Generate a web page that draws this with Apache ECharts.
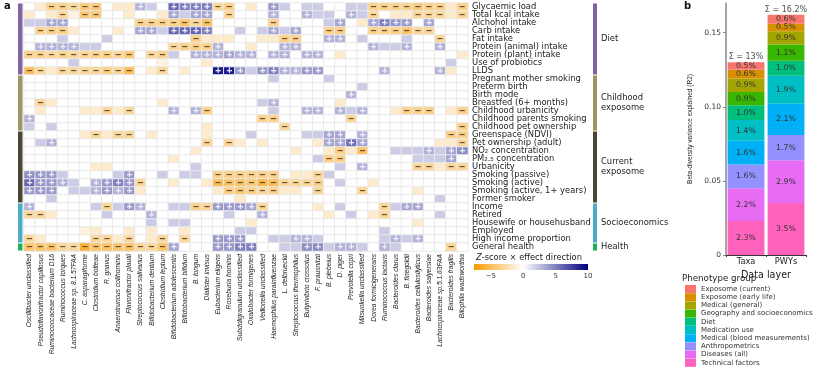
<!DOCTYPE html>
<html><head><meta charset="utf-8">
<script src="https://cdn.jsdelivr.net/npm/echarts@6/dist/echarts.min.js"></script>
<style>html,body{margin:0;padding:0;background:#fff}#c{width:830px;height:373px}</style>
</head><body><div id="c"></div>
<script>
// ---------------- DATA ----------------
const taxa = ['Oscillibacter unclassified','Pseudoflavonifractor capillosus','Ruminococcaceae bacterium D16','Ruminococcus torques','Lachnospiraceae sp. 8.1.57FAA','C. asparagiforme','Clostridium bolteae','R. gnavus','Anaerotruncus colihominis','Flavonifractor plautii','Streptococcus salivarius','Bifidobacterium dentium','Clostridium leptum','Bifidobacterium adolescentis','Bifidobacterium bifidum','B. longum','Dialister invisus','Eubacterium eligens','Roseburia hominis','Subdoligranulum unclassified','Oxalobacter formigenes','Veillonella unclassified','Haemophilus parainfluenzae','L. delbrueckii','Streptococcus thermophilus','Butyrivibrio crossotus','F. prausnitzii','B. plebeius','D. piger','Prevotella copri','Mitsuokella unclassified','Dorea formicigenerans','Ruminococcus lactaris','Bacteroides clarus','B. finegoldii','Bacteroides cellulosilyticus','Bacteroides salyersiae','Lachnospiraceae sp.5.1.63FAA','Bacteroides fragilis','Bilophila wadsworthia'];
const phenotypes = ['Glycaemic load','Total kcal intake','Alchohol intake','Carb intake','Fat intake','Protein (animal) intake','Protein (plant) intake','Use of probiotics','LLDS','Pregnant mother smoking','Preterm birth','Birth mode','Breastfed (6+ months)','Childhood urbanicity','Childhood parents smoking','Childhood pet ownership','Greenspace (NDVI)','Pet ownership (adult)','NO₂ concentration','PM₂.₅ concentration','Urbanicity','Smoking (passive)','Smoking (active)','Smoking (active, 1+ years)','Former smoker','Income','Retired','Housewife or househusband','Employed','High income proportion','General health'];
const groupNames = ['Diet','Childhood\nexposome','Current\nexposome','Socioeconomics','Health'];
const groupSizes = [9,7,9,5,1];
const groupColors = ['#8064a6','#9d9562','#4b4631','#4dadc8','#1db257'];
// Z-score x effect direction, one row per phenotype, one value per taxon
const zScores = [
[0,-1.5,-3.5,-3.5,-3,-4,-4,0,-1.5,-1.5, 3,2,0,6,5,5,5,-3,-3.5,0, -1.5,0,4,2,0,2,2,0,0,2, 2,-3.5,-3.5,-3.5,-3.5,-4,-3.5,-3.5,-1.5,-3.5],
[-1.5,0,-1.5,-3,-1,-4,-4,0,0,-1.5, 0,0,-1.5,3.5,2,3.5,3.5,0,-3,0, 0,0,3,0,0,3,2,2,0,3, 2,-3,0,-1.5,-1.5,-3,-3,-3,-1.5,-3],
[2,2,3.5,3.5,0,0,0,0,0,0, -3.5,-3.5,-3.5,-3.5,-4.5,-3,-4.5,0,0,0, 0,0,-3.5,0,0,0,0,2,3.5,0, -1.5,3.5,5,4,4,0,3.5,0,0,0],
[0,-3.5,-3.5,-3.5,-1.5,0,0,0,-1.5,0, 3.5,3.5,2,6,6,6,5,0,0,2, 0,2,3.5,2,3.5,0,0,-3.5,-3.5,0, 0,-3.5,-3.5,-3.5,-4.5,-3,-3,0,0,0],
[0,0,0,2,0,0,0,2,0,0, 0,0,0,0,0,-3.5,-1.5,-1.5,-1.5,0, 0,-1.5,-1.5,-3.5,-3.5,0,0,3,3,0, 2,0,0,0,2,0,0,-3,0,0],
[0,3,3,3,3,2,2,0,0,0, 0,0,0,-3,-3.5,-3.5,-3.5,3,0,0, -1.5,0,0,3,3,0,0,0,0,0, 0,3,2,2,3,0,0,3,0,0],
[-3.5,-3.5,-3,-3.5,-3,-3,-3.5,-3.5,-3,-4, 0,-3,-3.5,2,0,3,3,3,3.5,3, 3,0,3,3,0,3,3,0,-1.5,0, 0,0,0,0,0,0,0,0,0,-1.5],
[0,0,0,0,2,0,0,0,0,0, 0,0,-1,0,0,0,-1.5,0,0,0, 0,0,0,0,0,0,0,0,0,0, 0,0,0,0,0,0,0,0,2,0],
[-5,-3,-1.5,-3,-3,-3,-3,-3.5,-3,-5, 0,-1.5,-3,0,-1.5,0,0,9,9,4, 2,4,5,3,3,4,4,0,0,0, 0,0,3,0,0,0,0,3,-1.5,0],
[0,0,0,0,0,0,0,0,0,0, 0,0,0,0,0,0,0,0,0,0, 0,0,2,0,0,0,0,2,0,0, 0,0,0,0,0,0,0,0,0,0],
[0,0,0,0,0,0,0,0,0,0, 0,0,0,0,0,0,0,0,0,0, 0,0,0,0,0,0,0,0,0,0, 2,0,0,0,0,0,0,0,0,0],
[0,0,0,0,0,0,0,0,0,0, 0,0,0,0,0,0,0,0,0,0, 0,0,0,0,0,0,0,0,0,3, 0,0,0,0,0,0,0,0,0,0],
[0,-3,-1.5,0,0,0,0,0,0,0, 0,0,-1.5,0,0,0,0,0,0,0, 0,2,3,0,0,0,0,0,-1.5,0, 0,0,0,0,0,0,0,0,0,0],
[0,-1.5,0,0,0,-1.5,-1.5,-3,-1.5,-3, 0,0,0,3,0,3,-3.5,0,0,0, 0,0,2,0,0,3,3,0,3,2, 3,0,0,-1.5,-3.5,-3.5,-3.5,0,-1.5,-3.5],
[3,0,0,0,0,0,0,0,0,0, 0,0,0,0,0,0,0,0,0,0, 0,-3.5,-3.5,0,0,0,0,0,0,-3, 0,0,0,0,0,0,0,0,0,0],
[2,0,2,0,0,0,0,0,0,0, 0,0,0,0,0,0,-1.5,0,0,0, 0,0,0,-3,0,0,0,0,0,0, 0,0,0,0,0,0,0,0,0,-3.5],
[0,0,0,0,0,-1.5,-3,-1.5,-3,-3, 0,-1.5,0,0,0,0,-1.5,0,0,0, 2,0,0,0,0,2,2,3.5,3.5,0, 3,0,0,0,0,0,0,0,-3.5,-3.5],
[0,2,3,0,0,0,0,0,0,0, 0,0,0,0,0,0,-3,0,-3,-1.5, 0,-1.5,0,0,0,0,-1.5,3.5,3.5,5.5, 3.5,0,0,0,0,0,0,-1.5,-1.5,-3],
[0,0,0,0,0,0,0,0,0,0, 0,0,0,0,0,-1.5,0,0,0,0, 0,0,0,0,-1.5,0,0,-1.5,-3.5,-1.5, -4.5,0,0,2,2,2,3,2,3.5,4.5],
[0,0,0,0,0,0,0,0,0,0, 0,0,0,-1.5,0,0,0,0,0,0, 0,0,0,0,0,0,2,-3.5,-3.5,0, 0,0,0,0,0,2,2,2,3.5,0],
[0,0,0,0,0,0,-1.5,-1.5,0,0, 0,0,0,0,0,2,0,0,0,0, 0,0,0,0,0,0,0,0,2,0, 3,0,0,0,0,-3,-3,-1.5,-3,-3],
[4.5,4,4,2,0,0,0,0,2,4, 0,0,2,0,2,2,0,-3.5,-3.5,-3.5, -3.5,-3.5,-3.5,0,-1.5,-1.5,-3,2,0,0, 0,0,0,0,0,0,0,0,0,0],
[6,4,4,3,2,0,3,4,5,4, -3,0,0,-1.5,0,0,-1.5,-5,-4.5,-4.5, -4,-5.5,-5,-3,-3,-3,-3.5,0,2,0, 0,-1.5,0,0,0,0,0,0,0,0],
[4,4,4,0,2,2,3,4,3,4, -1.5,0,0,0,0,0,0,-1.5,-3.5,-4, -3.5,-3,-3.5,-1.5,-1.5,0,-3,0,0,0, -3,0,0,0,0,-1.5,0,0,0,0],
[0,0,2,0,0,0,0,0,0,0, 0,0,0,0,0,0,0,0,0,-1.5, 0,0,0,0,0,0,0,0,0,0, 0,0,0,0,0,0,0,2,0,0],
[3,0,0,0,0,0,2,-3,2,4, 3,0,0,2,2,-3.5,-3,4,4,4, 3.5,-3,0,0,0,0,-1.5,0,2,0, 0,0,-3,2,3.5,3.5,0,0,0,0],
[-3,-3,-1.5,0,0,0,0,2,0,0, 0,3,0,0,0,0,0,0,2,0, 0,3,0,0,0,0,0,-1.5,0,2, 0,-1.5,-3,0,0,0,0,2,0,0],
[0,0,0,0,0,0,0,0,0,0, 0,2,0,2,2,0,0,0,0,0, -1.5,0,0,0,0,0,0,0,0,0, 0,0,0,0,0,-1.5,0,0,0,0],
[0,0,0,0,0,-1,-1.5,0,0,-1.5, 0,-1.5,0,0,-1.5,0,0,0,0,2, 2,0,0,0,0,0,0,0,0,0, 0,0,2,0,0,0,0,0,0,0],
[-3,-1.5,0,0,0,0,-3,-3,-1.5,-3, 0,-1.5,-3,0,-3,0,0,4,4,4, 0,0,2,2,3,3,2,0,0,0, 0,0,2,3,2,3,0,0,0,0],
[-4.5,-4.5,-4.5,-3,-3,-6,-4.5,-4.5,-4.5,-4.5, -3,-3,-4.5,3.5,0,0,0,4,4,5, 5,0,0,2,2,4.5,4.5,2,3,3, 2,0,3,2,0,0,0,0,-3,0]
];
const zMin = -7.6, zMax = 10;
const zTicks = [-5, 0, 5, 10];

// Panel b
const dataLayers = ['Taxa', 'PWYs'];
const phenoGroups = ['Technical factors','Diseases (all)','Anthropometrics','Medical (blood measurements)','Medication use','Diet','Geography and socioeconomics','Medical (general)','Exposome (early life)','Exposome (current)']; // bottom -> top
const phenoColors = ['#ff62bc','#e76bf3','#9590ff','#00b0f6','#00bfc4','#00bf7d','#39b600','#a3a500','#d89000','#f8766d'];
const taxaR2 = [2.3, 2.2, 1.6, 1.6, 1.4, 1.0, 0.9, 0.9, 0.6, 0.5]; // percent
const pwyR2  = [3.5, 2.9, 1.7, 2.1, 1.9, 1.0, 1.1, 0.9, 0.5, 0.6]; // percent
const r2Ticks = [0, 0.05, 0.10, 0.15];

// ---------------- CHART ----------------
const HM = {left: 24, top: 3, width: 444, height: 248};
const BP = {left: 726, top: 3, width: 80, height: 252};
const LG = {left: 474, top: 264, width: 114, height: 6};
const SANS = '"DejaVu Sans", sans-serif';
const ARIAL = '"Liberation Sans", Arial, sans-serif';

const ORANGE = [248, 155, 0], WHITE = [255, 255, 255], NAVY = [0, 0, 128];
function mix(a, b, t) { return 'rgb(' + a.map((x, i) => Math.round(x + (b[i] - x) * t)).join(',') + ')'; }
function zColor(v) { return v < 0 ? mix(WHITE, ORANGE, Math.min(1, v / zMin)) : mix(WHITE, NAVY, Math.min(1, v / zMax)); }
const stops = [];
for (let i = 0; i <= 44; i++) stops.push(zColor(zMin + i * (zMax - zMin) / 44));

const cells = [];
zScores.forEach((row, r) => row.forEach((v, c) => cells.push([c, r, v])));

const chart = echarts.init(document.getElementById('c'));
const rowH = HM.height / phenotypes.length;

const graphics = [];
graphics.push({type: 'text', left: 4, top: 1, style: {text: 'a', font: 'bold 10px ' + SANS, fill: '#111'}});
graphics.push({type: 'text', left: 684, top: 1, style: {text: 'b', font: 'bold 10px ' + SANS, fill: '#111'}});
let start = 0;
groupSizes.forEach((n, g) => {
  const y0 = HM.top + start * rowH + 0.5, h = n * rowH - 1;
  graphics.push({type: 'rect', shape: {x: 18, y: y0, width: 4.5, height: h}, style: {fill: groupColors[g]}});
  graphics.push({type: 'rect', shape: {x: 593, y: y0, width: 4, height: h}, style: {fill: groupColors[g]}});
  graphics.push({type: 'text', x: 601, y: HM.top + (start + n / 2) * rowH, style: {text: groupNames[g], font: '8.4px ' + SANS, fill: '#222', verticalAlign: 'middle', lineHeight: 10}});
  start += n;
});
// heatmap legend
graphics.push({type: 'rect', shape: {x: LG.left, y: LG.top, width: LG.width, height: LG.height},
  style: {fill: new echarts.graphic.LinearGradient(0, 0, 1, 0, stops.map((c, i) => ({offset: i / (stops.length - 1), color: c})))}});
graphics.push({type: 'text', x: 476, y: 258, style: {rich: {i: {fontStyle: 'italic', fontSize: 8.3, fontFamily: SANS, fill: '#222'}, n: {fontSize: 8.3, fontFamily: SANS, fill: '#222'}}, text: '{i|Z}{n|-score × effect direction}', verticalAlign: 'middle'}});
graphics.push({type: 'text', x: 682, y: 279, style: {text: 'Phenotype group', font: '8.7px ' + SANS, fill: '#222', verticalAlign: 'middle'}});

const barSeries = phenoGroups.map((g, i) => ({
  type: 'bar', name: g, stack: 'r2', xAxisIndex: 1, yAxisIndex: 1,
  data: [taxaR2[i] / 100, pwyR2[i] / 100],
  barCategoryGap: '8%',
  itemStyle: {color: phenoColors[i]},
  label: {show: true, position: 'inside', fontFamily: SANS, fontSize: 7.8, color: '#333',
    formatter: p => (p.value * 100).toFixed(1) + '%'},
  emphasis: {disabled: true}
}));
const totals = [taxaR2, pwyR2].map(a => a.reduce((s, v) => s + v, 0) / 100);

const option = {
  animation: false,
  textStyle: {fontFamily: SANS},
  grid: [
    Object.assign({}, HM),
    Object.assign({}, BP),
    Object.assign({}, LG)
  ],
  xAxis: [
    {type: 'category', gridIndex: 0, data: taxa, axisLine: {show: false}, axisTick: {show: false}, splitLine: {show: false},
      axisLabel: {interval: 0, rotate: 90, fontSize: 6.7, fontStyle: 'italic', fontFamily: ARIAL, color: '#222', margin: 3}},
    {type: 'category', gridIndex: 1, data: dataLayers, axisLine: {lineStyle: {color: '#333', width: 1}},
      axisTick: {show: true, length: 2, lineStyle: {color: '#333'}}, axisLabel: {fontSize: 8.2, color: '#222', margin: 3},
      name: 'Data layer', nameLocation: 'middle', nameGap: 15, nameTextStyle: {fontSize: 9.6, color: '#222'}},
    {type: 'value', gridIndex: 2, min: zMin, max: zMax, axisLine: {show: false}, axisTick: {show: false}, splitLine: {show: false},
      axisLabel: {customValues: zTicks, fontSize: 7, color: '#333', margin: 3, formatter: v => v < 0 ? '−' + Math.abs(v) : String(v)}}
  ],
  yAxis: [
    {type: 'category', gridIndex: 0, data: phenotypes, inverse: true, position: 'right', axisLine: {show: false}, axisTick: {show: false},
      axisLabel: {interval: 0, fontSize: 8.4, color: '#222', margin: 4}},
    {type: 'value', gridIndex: 1, min: 0, max: 0.17, axisLine: {show: true, lineStyle: {color: '#888', width: 1.5}},
      axisTick: {show: true, length: 3, customValues: r2Ticks, lineStyle: {color: '#888'}}, splitLine: {show: false},
      axisLabel: {customValues: r2Ticks, fontSize: 7.5, color: '#333', margin: 5, formatter: v => v === 0 ? '0' : v.toFixed(2)},
      name: 'Beta-diversity variance explained (R2)', nameLocation: 'middle', nameGap: 32,
      nameTextStyle: {fontSize: 6.5, fontFamily: ARIAL, color: '#222'}},
    {type: 'value', gridIndex: 2, show: false}
  ],
  visualMap: {show: false, type: 'continuous', seriesIndex: 0, dimension: 2, min: zMin, max: zMax, inRange: {color: stops}},
  legend: {data: phenoGroups.slice().reverse(), orient: 'vertical', left: 685, top: 285, height: 100, padding: 0,
    itemWidth: 11, itemHeight: 8, itemGap: 0.2,
    icon: 'rect', selectedMode: false, textStyle: {fontSize: 7, color: '#333', lineHeight: 8, padding: 0}},
  graphic: graphics,
  series: [
    {type: 'heatmap', xAxisIndex: 0, yAxisIndex: 0, data: cells,
      itemStyle: {borderColor: '#e9e9e9', borderWidth: 1},
      label: {show: true, formatter: p => p.value[2] >= 2.5 ? '{p|+}' : (p.value[2] <= -2.5 ? '{m|−}' : ''),
        rich: {p: {color: '#f0f0fa', fontSize: 10, fontWeight: 'bold', fontFamily: ARIAL}, m: {color: '#5b4a30', fontSize: 10, fontWeight: 'bold', fontFamily: ARIAL}}},
      emphasis: {disabled: true}}
  ].concat(barSeries).concat([
    {type: 'scatter', xAxisIndex: 1, yAxisIndex: 1, symbolSize: 0, data: totals.map((t, i) => [i, t]),
      label: {show: true, position: 'top', distance: 1, fontSize: 8, color: '#222',
        formatter: p => 'Σ = ' + parseFloat((p.value[1] * 100).toFixed(1)) + '%'}}
  ])
};
chart.setOption(option);
</script></body></html>
